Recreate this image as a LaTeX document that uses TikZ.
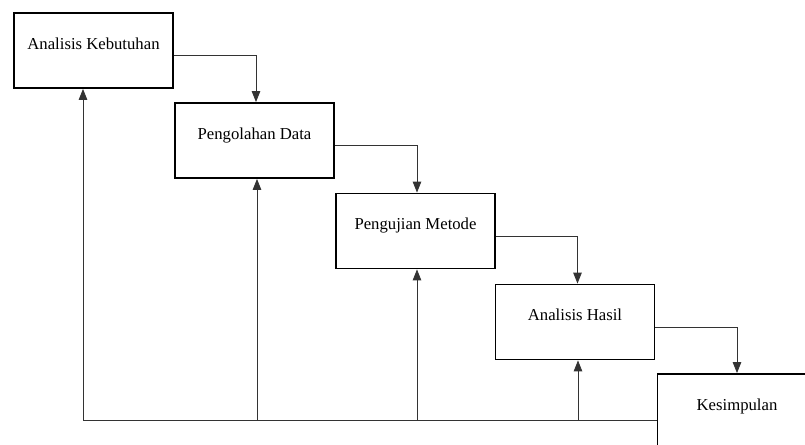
\documentclass[tikz,border=0pt]{standalone}
\usepackage{fontspec}
\setmainfont{Liberation Serif}
\usepackage{tikz}
\usetikzlibrary{arrows.meta,positioning}

\tikzset{
    stage/.style={draw, line width=1.8pt, rectangle, minimum width=159pt, minimum height=75pt,
        text height=12pt, text depth=15pt, font=\fontsize{16.7}{20}\selectfont},
    flow/.style={draw=black!80, line width=0.9pt, -{Triangle[length=11pt,width=8.5pt]}}
}

\begin{document}
\begin{tikzpicture}[x=1pt,y=-1pt]
            \clip (0,0) rectangle (805,444);
            \fill[white] (0,0) rectangle (805,444);

            \node[stage] (kebutuhan) at (93.5, 50.5) {Analisis Kebutuhan};
            \node[stage] (pengolahan) at (254.5, 140.5) {Pengolahan Data};
            \node[stage] (pengujian) at (415.5, 231) {Pengujian Metode};
            \node[stage] (hasil) at (575, 322) {Analisis Hasil};
            \node[stage] (kesimpulan) at (737, 411.5) {Kesimpulan};

            \draw[flow] ([yshift=-4.5pt]kebutuhan.east) -| ([xshift=1.5pt]pengolahan.north);
            \draw[flow] ([yshift=-4.5pt]pengolahan.east) -| ([xshift=1.5pt]pengujian.north);
            \draw[flow] ([yshift=-5pt]pengujian.east) -| ([xshift=2.5pt]hasil.north);
            \draw[flow] ([yshift=-5pt]hasil.east) -| (kesimpulan.north);

            \coordinate (balik) at ([yshift=-8.5pt]kesimpulan.west);
            \draw[flow] (balik) -| ([xshift=-10.5pt]kebutuhan.south);
            \draw[flow] ([xshift=2.5pt]pengolahan.south |- balik) -- ([xshift=2.5pt]pengolahan.south);
            \draw[flow] ([xshift=1.5pt]pengujian.south |- balik) -- ([xshift=1.5pt]pengujian.south);
            \draw[flow] ([xshift=3pt]hasil.south |- balik) -- ([xshift=3pt]hasil.south);
        \end{tikzpicture}
\end{document}
